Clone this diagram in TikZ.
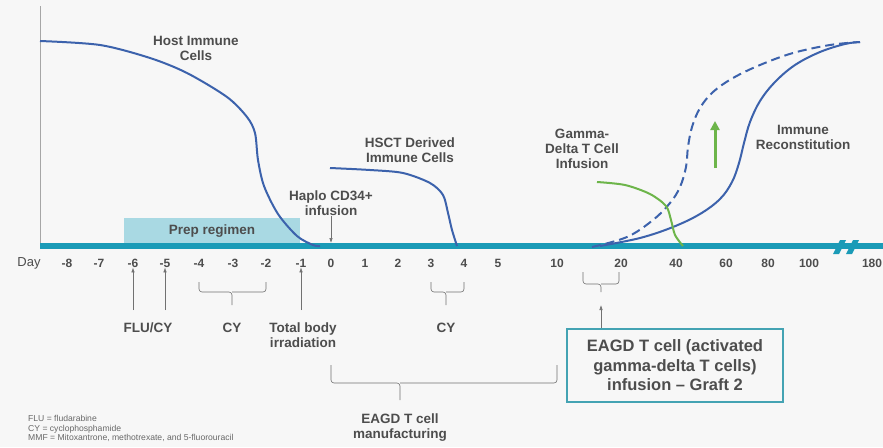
\documentclass[tikz,border=0pt]{standalone}
\usepackage{fontspec}
\setmainfont{Liberation Sans}
\usetikzlibrary{arrows.meta}
\definecolor{bg}{HTML}{F7F7F7}
\definecolor{txt}{HTML}{4D4D4D}
\definecolor{curveblue}{HTML}{3C62AC}
\definecolor{axisteal}{HTML}{1B9BB7}
\definecolor{boxteal}{HTML}{44A3B3}
\definecolor{prepfill}{HTML}{A9D9E3}
\definecolor{gdgreen}{HTML}{6DB54A}
\tikzset{
  lbl/.style={text=txt,font=\fontsize{13.5}{15}\selectfont\bfseries,align=center,inner sep=0pt},
  tick/.style={text=txt,font=\fontsize{12}{14}\selectfont\bfseries,inner sep=0pt},
  cellcurve/.style={curveblue,line width=2pt},
  uparr/.style={draw=txt!80,line width=0.6pt,-{Latex[length=5pt,width=3.5pt]}},
  brk/.style={draw=txt!80,line width=0.6pt,rounded corners=3pt},
}
\begin{document}
\begin{tikzpicture}[x=1pt,y=-1pt]
       \fill[bg] (0,0) rectangle (883,447);
       \useasboundingbox (0,0) rectangle (883,447);
       \node[fill=prepfill,minimum width=176pt,minimum height=27pt,inner sep=0pt] (prep) at (212,231.5) {};
       \node[lbl] at (prep) {Prep regimen};
       \draw[txt!50,line width=0.8pt] (40,6) -- (40,246);
       \draw[axisteal,line width=6pt] (40,246) -- (883,246);
       \fill[axisteal] (833,254) -- (840,240) -- (846,240) -- (839,254) -- cycle;
       \fill[axisteal] (846,254) -- (853,240) -- (859,240) -- (852,254) -- cycle;
       \node[text=txt,font=\fontsize{13}{15}\selectfont,inner sep=0pt] (day) at (29,263) {Day};
       \foreach \lab/\px [count=\i] in {-8/67,-7/99,-6/133,-5/165,-4/199,-3/233,-2/266,-1/301,0/331,1/365,2/398,3/431,4/464,5/498,10/557,20/621,40/676,60/726,80/768,100/809,180/872}
         \node[tick] (t\i) at (\px,263) {\lab};
       \draw[cellcurve] plot[smooth,tension=0.5] coordinates {(40,41) (100,45) (150,58) (187,73) (227,97) (247,117) (255,133) (258,160) (264,186) (278,214) (297,236) (313,245) (320,246)};
       \draw[cellcurve] plot[smooth,tension=0.5] coordinates {(330,168) (370,170) (403,173) (430,183) (443,195) (448,213) (452,230) (457,246)};
       \draw[cellcurve] plot[smooth,tension=0.6] coordinates {(600,246) (640,238) (673,227) (700,214) (720,199) (732,182) (739,163) (744,143) (750,122) (760,101) (775,82) (795,65) (820,52) (845,44) (860,42)};
       \draw[cellcurve,dash pattern=on 9pt off 5pt] plot[smooth,tension=0.6] coordinates {(592,247) (627,237) (653,220) (670,203) (680,187) (686,167) (688,147) (692,127) (700,108) (713,92) (733,78) (760,65) (793,53) (830,45) (860,42)};
       \draw[gdgreen,line width=2pt] plot[smooth,tension=0.5] coordinates {(597,182) (625,185) (650,194) (666,206) (671,220) (675,235) (683,246)};
       \node[lbl] (host) at (196,48) {Host Immune\\Cells};
       \node[lbl] (hsct) at (410,150) {HSCT Derived\\Immune Cells};
       \node[lbl] (haplo) at (331,203) {Haplo CD34+\\infusion};
       \node[lbl] (gamma) at (582,149) {Gamma-\\Delta T Cell\\Infusion};
       \node[lbl] (recon) at (803,137) {Immune\\Reconstitution};
       \coordinate (haplotip) at (331,243);
       \draw[uparr] (haplo.south) -- (haplotip);
       \coordinate (gbase) at (715,168);
       \coordinate (gtip) at (715,121);
       \draw[gdgreen,line width=3pt,-{Triangle[length=9pt,width=9pt]}] (gbase) -- (gtip);
       \node[lbl] (flu) at (148,328) {FLU/CY};
       \node[lbl] (cya) at (232,328) {CY};
       \node[lbl] (tbi) at (303,335.5) {Total body\\irradiation};
       \node[lbl] (cyb) at (446,328) {CY};
       \node[lbl] (manuf) at (400,428) {EAGD T cell\\manufacturing};
       \coordinate (a1) at (133,310);
       \coordinate (a2) at (165,310);
       \coordinate (a3) at (301,310);
       \draw[uparr] (a1) -- (t3.south);
       \draw[uparr] (a2) -- (t4.south);
       \draw[uparr] (a3) -- (t8.south);
       \draw[brk] (199,282) |- (232,292) -- (232,305);
       \draw[brk] (266,282) |- (232,292);
       \draw[brk] (431,282) |- (446,292) -- (446,305);
       \draw[brk] (464,282) |- (446,292);
       \draw[brk] (331,365) |- (400,383) -- (400,400);
       \draw[brk] (557,365) |- (400,383);
       \draw[brk] (583,272) |- (601,284) -- (601,292);
       \draw[brk] (619,272) |- (601,284);
       \node[draw=boxteal,line width=1.8pt,fill=bg,text=txt,font=\fontsize{16.5}{19.5}\selectfont\bfseries,align=center,minimum width=216pt,minimum height=73pt] (graft) at (675,365.5) {EAGD T cell (activated\\gamma-delta T cells)\\infusion -- Graft 2};
       \coordinate (graftpt) at (601,305);
       \draw[uparr] (graft.north -| graftpt) -- (graftpt);
       \node[text=txt!85,font=\fontsize{8.6}{9.7}\selectfont,align=left,anchor=north west,inner sep=0pt] (legend) at (28,415) {FLU = fludarabine\\CY = cyclophosphamide\\MMF = Mitoxantrone, methotrexate, and 5-fluorouracil};
\end{tikzpicture}
\end{document}
